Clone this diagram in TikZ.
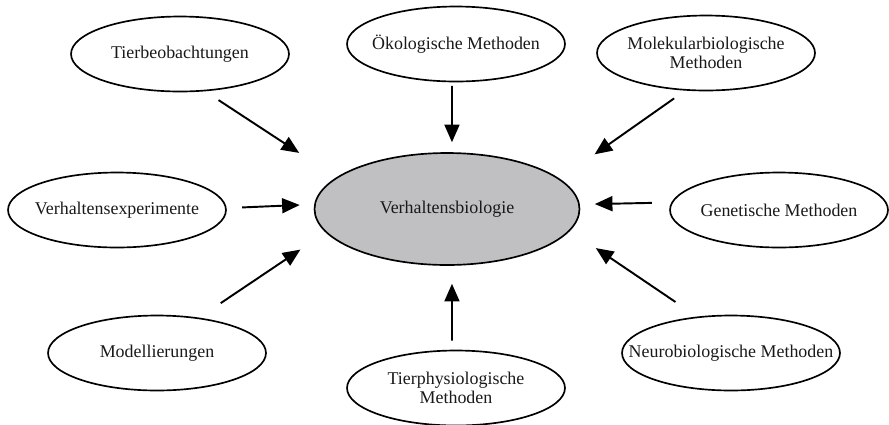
\documentclass[tikz,border=0pt]{standalone}
\usepackage{fontspec}
\setmainfont{Liberation Serif}
\usetikzlibrary{arrows.meta,shapes.geometric}
\definecolor{vbgrau}{RGB}{192,192,194}
\definecolor{textgrau}{RGB}{25,25,25}

\begin{document}
\begin{tikzpicture}[x=0.02cm, y=-0.02cm, font=\fontsize{10.2}{11}\selectfont,
    methode/.style={ellipse, draw, line width=0.95pt, minimum width=4.36cm, minimum height=1.5cm,
      inner xsep=-1cm, inner ysep=0pt, align=center, text=textgrau},
    pfeil/.style={-{Triangle[length=10pt,width=8.5pt]}, line width=1.1pt}]
  \useasboundingbox (0,0) rectangle (889,424);
  % zentrum
  \node[methode, fill=vbgrau, minimum width=5.3cm, minimum height=2.24cm] (vb) at (447,209) {Verhaltensbiologie};
  % methoden rundherum (name / mitte / text)
  \foreach \name/\pos/\txt in {
      tier/{(180,54)}/Tierbeobachtungen,
      oek/{(456,44)}/{\"Okologische Methoden},
      mol/{(706,53)}/{Molekularbiologische\\Methoden},
      exp/{(117,210)}/Verhaltensexperimente,
      gen/{(779,210)}/{Genetische Methoden},
      mod/{(157,353)}/Modellierungen,
      phys/{(456,388)}/{Tierphysiologische\\Methoden},
      neuro/{(731,353)}/{Neurobiologische Methoden}} {
    \node[methode] (\name) at \pos {\txt};
  }
  % pfeile zur mitte (von / winkel aussen / winkel mitte / abstand aussen / abstand mitte)
  \foreach \von/\a/\b/\s/\e in {
      tier/-56/164/0.32cm/0.89cm,
      oek/-96/85/0.07cm/0.2cm,
      mol/-119/15.5/0.27cm/0.85cm,
      exp/1.6/178.8/0.31cm/0.29cm,
      gen/176.8/2.2/0.39cm/0.3cm,
      mod/40/191/0.52cm/0.61cm,
      phys/96/-85/0.18cm/0.36cm,
      neuro/133/-10.7/0.52cm/0.62cm} {
    \draw[pfeil, shorten <=\s, shorten >=\e] (\von.\a) -- (vb.\b);
  }
\end{tikzpicture}
\end{document}
